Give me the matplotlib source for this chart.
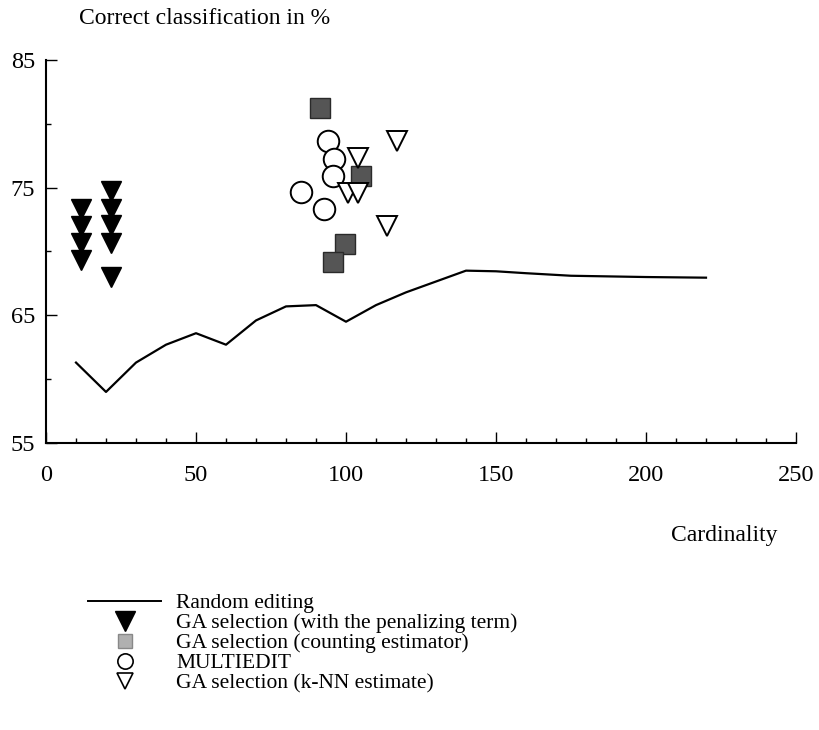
import matplotlib
matplotlib.use("Agg")
import matplotlib.pyplot as plt
from matplotlib.lines import Line2D
from matplotlib.ticker import MultipleLocator

plt.rcParams['font.family'] = ['Liberation Serif', 'DejaVu Serif']

# Random editing curve
random_x = [10, 20, 30, 40, 50, 60, 70, 80, 90, 100, 110, 120, 140, 150, 160, 175, 200, 220]
random_y = [61.3, 59.0, 61.3, 62.7, 63.6, 62.7, 64.6, 65.7, 65.8, 64.5, 65.8, 66.8, 68.5, 68.45, 68.3, 68.1, 68.0, 67.95]

# GA selection (with the penalizing term)
penal_x = [11.5, 11.5, 11.5, 11.5, 21.5, 21.5, 21.5, 21.5, 21.5]
penal_y = [73.35, 72.0, 70.65, 69.3, 74.7, 73.35, 72.05, 70.65, 68.0]

# GA selection (counting estimator)
count_x = [91.3, 104.9, 99.8, 95.7]
count_y = [81.25, 75.9, 70.55, 69.2]

# MULTIEDIT
multi_x = [94.1, 96.1, 95.8, 84.9, 92.7]
multi_y = [78.65, 77.25, 75.9, 74.65, 73.3]

# GA selection (k-NN estimate)
knn_x = [117.1, 104.1, 100.8, 104.1, 113.8]
knn_y = [78.65, 77.3, 74.6, 74.6, 72.0]

labels = ["Random editing",
          "GA selection (with the penalizing term)",
          "GA selection (counting estimator)",
          "MULTIEDIT",
          "GA selection (k-NN estimate)"]

fig = plt.figure(figsize=(8.19, 7.30), dpi=100)
ax = fig.add_axes([46 / 819, 1 - 443 / 730, 750 / 819, 383 / 730])

ax.plot(random_x, random_y, color='black', lw=1.6, zorder=2)
ax.plot(penal_x, penal_y, ls='none', marker='v', ms=15, color='black', zorder=3)
ax.plot(count_x, count_y, ls='none', marker='s', ms=15, mfc='#555555', mec='#2a2a2a', mew=1, zorder=3)
ax.plot(multi_x, multi_y, ls='none', marker='o', ms=15.5, mfc='white', mec='black', mew=1.4, zorder=4)
ax.plot(knn_x, knn_y, ls='none', marker='v', ms=15, mfc='white', mec='black', mew=1.4, zorder=5)

ax.set_xlim(0, 250)
ax.set_ylim(55, 85)
ax.xaxis.set_major_locator(MultipleLocator(50))
ax.xaxis.set_minor_locator(MultipleLocator(10))
ax.yaxis.set_minor_locator(MultipleLocator(5))
ax.set_yticks([55, 65, 75, 85])

for side in ('top', 'right'):
    ax.spines[side].set_visible(False)
for side in ('left', 'bottom'):
    ax.spines[side].set_linewidth(1.5)

ax.tick_params(axis='both', which='major', direction='in', length=8, width=1, labelsize=17.5)
ax.tick_params(axis='both', which='minor', direction='in', length=3.5, width=1)
ax.tick_params(axis='x', which='major', pad=16)
ax.tick_params(axis='y', which='major', pad=8)

fig.text(205 / 819, 1 - 19 / 730, "Correct classification in %", ha='center', va='center', fontsize=17)
fig.text(724 / 819, 1 - 535 / 730, "Cardinality", ha='center', va='center', fontsize=17)

handles = [
    Line2D([], [], color='black', lw=1.4),
    Line2D([], [], ls='none', marker='v', ms=14, color='black'),
    Line2D([], [], ls='none', marker='s', ms=10.5, mfc='#b0b0b0', mec='#888888'),
    Line2D([], [], ls='none', marker='o', ms=11, mfc='white', mec='black', mew=1.2),
    Line2D([], [], ls='none', marker='v', ms=11, mfc='white', mec='black', mew=1.2),
]
fig.legend(handles, labels, loc='upper left', bbox_to_anchor=(88 / 819, 1 - 593 / 730),
           frameon=False, fontsize=15.5, handlelength=3.4, handletextpad=0.7,
           labelspacing=0.0, borderpad=0, borderaxespad=0)

fig.savefig("out.png", dpi=100)
